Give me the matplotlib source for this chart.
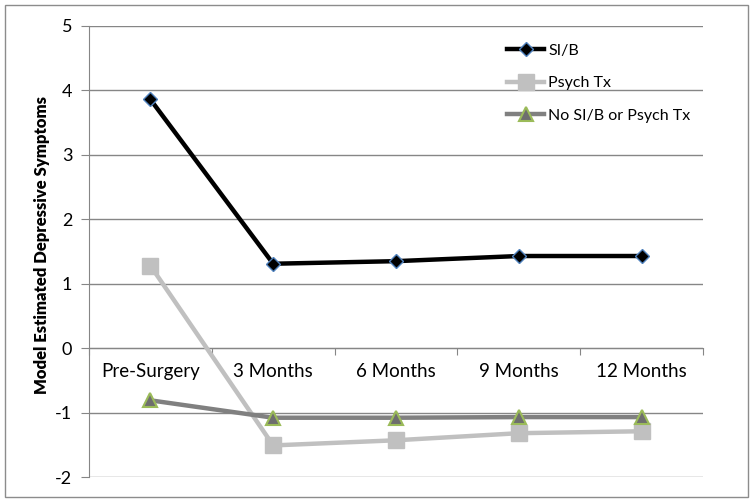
import matplotlib.pyplot as plt
import matplotlib.patches as mpatches
import numpy as np

plt.rcParams['font.family'] = ['Lato', 'DejaVu Sans']
plt.rcParams['axes.unicode_minus'] = False

# ── Data ──
categories = ["Pre-Surgery", "3 Months", "6 Months", "9 Months", "12 Months"]
si_b = [3.86, 1.31, 1.35, 1.43, 1.43]
psych_tx = [1.28, -1.51, -1.43, -1.32, -1.29]
no_sib_psych = [-0.81, -1.08, -1.08, -1.07, -1.07]
y_ticks = [-2, -1, 0, 1, 2, 3, 4, 5]

grid_col = "#868686"
x = np.arange(len(categories))

fig = plt.figure(figsize=(7.54, 5.04), dpi=100)
ax = fig.add_axes([89 / 754, 1 - 477 / 504, 614 / 754, 451 / 504])

# outer chart border
fig.patches.append(mpatches.Rectangle((5 / 754, 7 / 504), 743 / 754, 492 / 504,
                                      transform=fig.transFigure, fill=False,
                                      edgecolor="#8c8c8c", linewidth=1.0))

ax.plot(x, si_b, color="black", linewidth=3.2, marker="D", markersize=7,
        markerfacecolor="black", markeredgecolor="#4f81bd", markeredgewidth=1.0,
        label="SI/B", zorder=5)
ax.plot(x, psych_tx, color="#c0c0c0", linewidth=3.2, marker="s", markersize=11,
        markerfacecolor="#c0c0c0", markeredgecolor="#c0c0c0",
        label="Psych Tx", zorder=4)
ax.plot(x, no_sib_psych, color="#808080", linewidth=3.2, marker="^", markersize=10,
        markerfacecolor="#6e6e6e", markeredgecolor="#9bbb59", markeredgewidth=1.5,
        label="No SI/B or Psych Tx", zorder=4)

ax.set_xlim(-0.5, len(categories) - 0.5)
ax.set_ylim(-2, 5)
ax.set_yticks(y_ticks)
ax.tick_params(axis="y", length=6, color=grid_col, labelsize=13, pad=6)
ax.yaxis.grid(True, color=grid_col, linewidth=1.0)
ax.set_axisbelow(True)

# x axis sits at zero, ticks between categories, labels under each category
ax.spines["bottom"].set_position(("data", 0))
ax.spines["bottom"].set_color(grid_col)
ax.spines["left"].set_color(grid_col)
ax.spines["top"].set_visible(False)
ax.spines["right"].set_visible(False)
ax.set_xticks(np.arange(-0.5, len(categories)))
ax.set_xticklabels([])
ax.tick_params(axis="x", which="major", length=5, color=grid_col)
ax.set_xticks(x, minor=True)
ax.set_xticklabels(categories, minor=True)
ax.tick_params(axis="x", which="minor", length=0, pad=11, labelsize=13.5)

ax.set_ylabel("Model Estimated Depressive Symptoms", fontsize=12,
              fontweight="heavy")
ax.yaxis.set_label_coords(-0.064, 0.515)

ax.legend(loc="upper left", bbox_to_anchor=(0.657, 0.993), frameon=False,
          fontsize=11.5, labelspacing=1.15, handlelength=2.35, handletextpad=0.25)

plt.savefig("out.png", dpi=100)
